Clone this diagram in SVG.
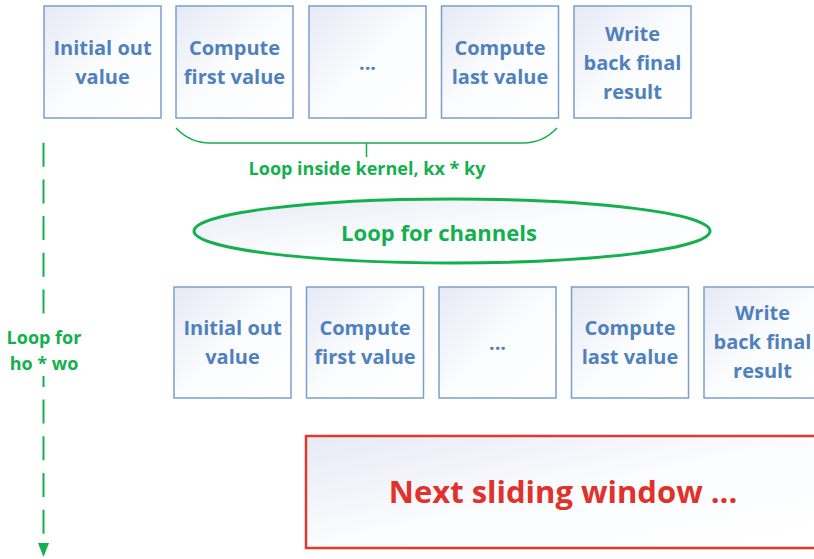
<svg xmlns="http://www.w3.org/2000/svg" width="814" height="559" viewBox="0 0 814 559">
<defs>
<linearGradient id="gb" x1="0" y1="0" x2="1" y2="1">
<stop offset="0" stop-color="#e6eaf5"/>
<stop offset="0.5" stop-color="#fbfcfe"/>
<stop offset="1" stop-color="#ffffff"/>
</linearGradient>
<style>
.box{fill:url(#gb);stroke:#7a9fcc;stroke-width:1.5}
.bt{font-family:"Open Sans","Liberation Sans",sans-serif;font-weight:700;font-size:20px;fill:#4f81bd;text-anchor:middle}
.gt{font-family:"Open Sans","Liberation Sans",sans-serif;font-weight:700;fill:#14b04e;text-anchor:middle}
</style>
</defs>
<rect width="814" height="559" fill="#ffffff"/>

<g id="top1"><rect class="box" x="44" y="6" width="117" height="112"/><text class="bt" x="102.5" y="55">Initial out</text><text class="bt" x="102.5" y="84">value</text></g>
<g id="top2"><rect class="box" x="176" y="6" width="117" height="112"/><text class="bt" x="234.5" y="55">Compute</text><text class="bt" x="234.5" y="84">first value</text></g>
<g id="top3"><rect class="box" x="309" y="6" width="117" height="112"/><text class="bt" x="367.5" y="70">...</text></g>
<g id="top4"><rect class="box" x="441.5" y="6" width="117" height="112"/><text class="bt" x="500" y="55">Compute</text><text class="bt" x="500" y="84">last value</text></g>
<g id="top5"><rect class="box" x="574" y="6" width="117" height="112"/><text class="bt" x="632.5" y="41">Write</text><text class="bt" x="632.5" y="70">back final</text><text class="bt" x="632.5" y="99">result</text></g>

<g id="bot1"><rect class="box" x="174" y="287" width="117" height="111"/><text class="bt" x="232.5" y="335">Initial out</text><text class="bt" x="232.5" y="364">value</text></g>
<g id="bot2"><rect class="box" x="306.5" y="287" width="117" height="111"/><text class="bt" x="365" y="335">Compute</text><text class="bt" x="365" y="364">first value</text></g>
<g id="bot3"><rect class="box" x="439" y="287" width="117" height="111"/><text class="bt" x="497.5" y="350">...</text></g>
<g id="bot4"><rect class="box" x="571.5" y="287" width="117" height="111"/><text class="bt" x="630" y="335">Compute</text><text class="bt" x="630" y="364">last value</text></g>
<g id="bot5"><rect class="box" x="704" y="287" width="117" height="111"/><text class="bt" x="762.5" y="320">Write</text><text class="bt" x="762.5" y="349">back final</text><text class="bt" x="762.5" y="378">result</text></g>

<g id="channels"><ellipse cx="452" cy="231" rx="258" ry="32" fill="url(#gb)" stroke="#14b04e" stroke-width="3"/><text class="gt" x="439" y="241" font-size="22">Loop for channels</text></g>

<g id="next"><rect x="306" y="436" width="520" height="112" fill="url(#gb)" stroke="#e0392f" stroke-width="2.5"/><text x="563" y="503" font-family="'Open Sans','Liberation Sans',sans-serif" font-weight="700" font-size="31" fill="#e0322a" text-anchor="middle">Next sliding window ...</text></g>

<g id="connectors">
<path d="M176,128 Q190,143 210,143 L523,143 Q543,143 557,128 M366.5,143 L366.5,157" fill="none" stroke="#14b04e" stroke-width="1.5"/>
<line x1="43.5" y1="142.7" x2="43.5" y2="535" stroke="#14b04e" stroke-width="2" stroke-dasharray="24 12.7"/>
<polygon points="38,543 49,543 43.5,557" fill="#14b04e"/>
<rect x="0" y="316" width="90" height="60" fill="#ffffff"/>
</g>
<g id="labels">
<text class="gt" x="367" y="175" font-size="18">Loop inside kernel, kx * ky</text>
<text class="gt" x="44" y="344" font-size="18">Loop for</text>
<text class="gt" x="44" y="370" font-size="18">ho * wo</text>
</g>
</svg>
